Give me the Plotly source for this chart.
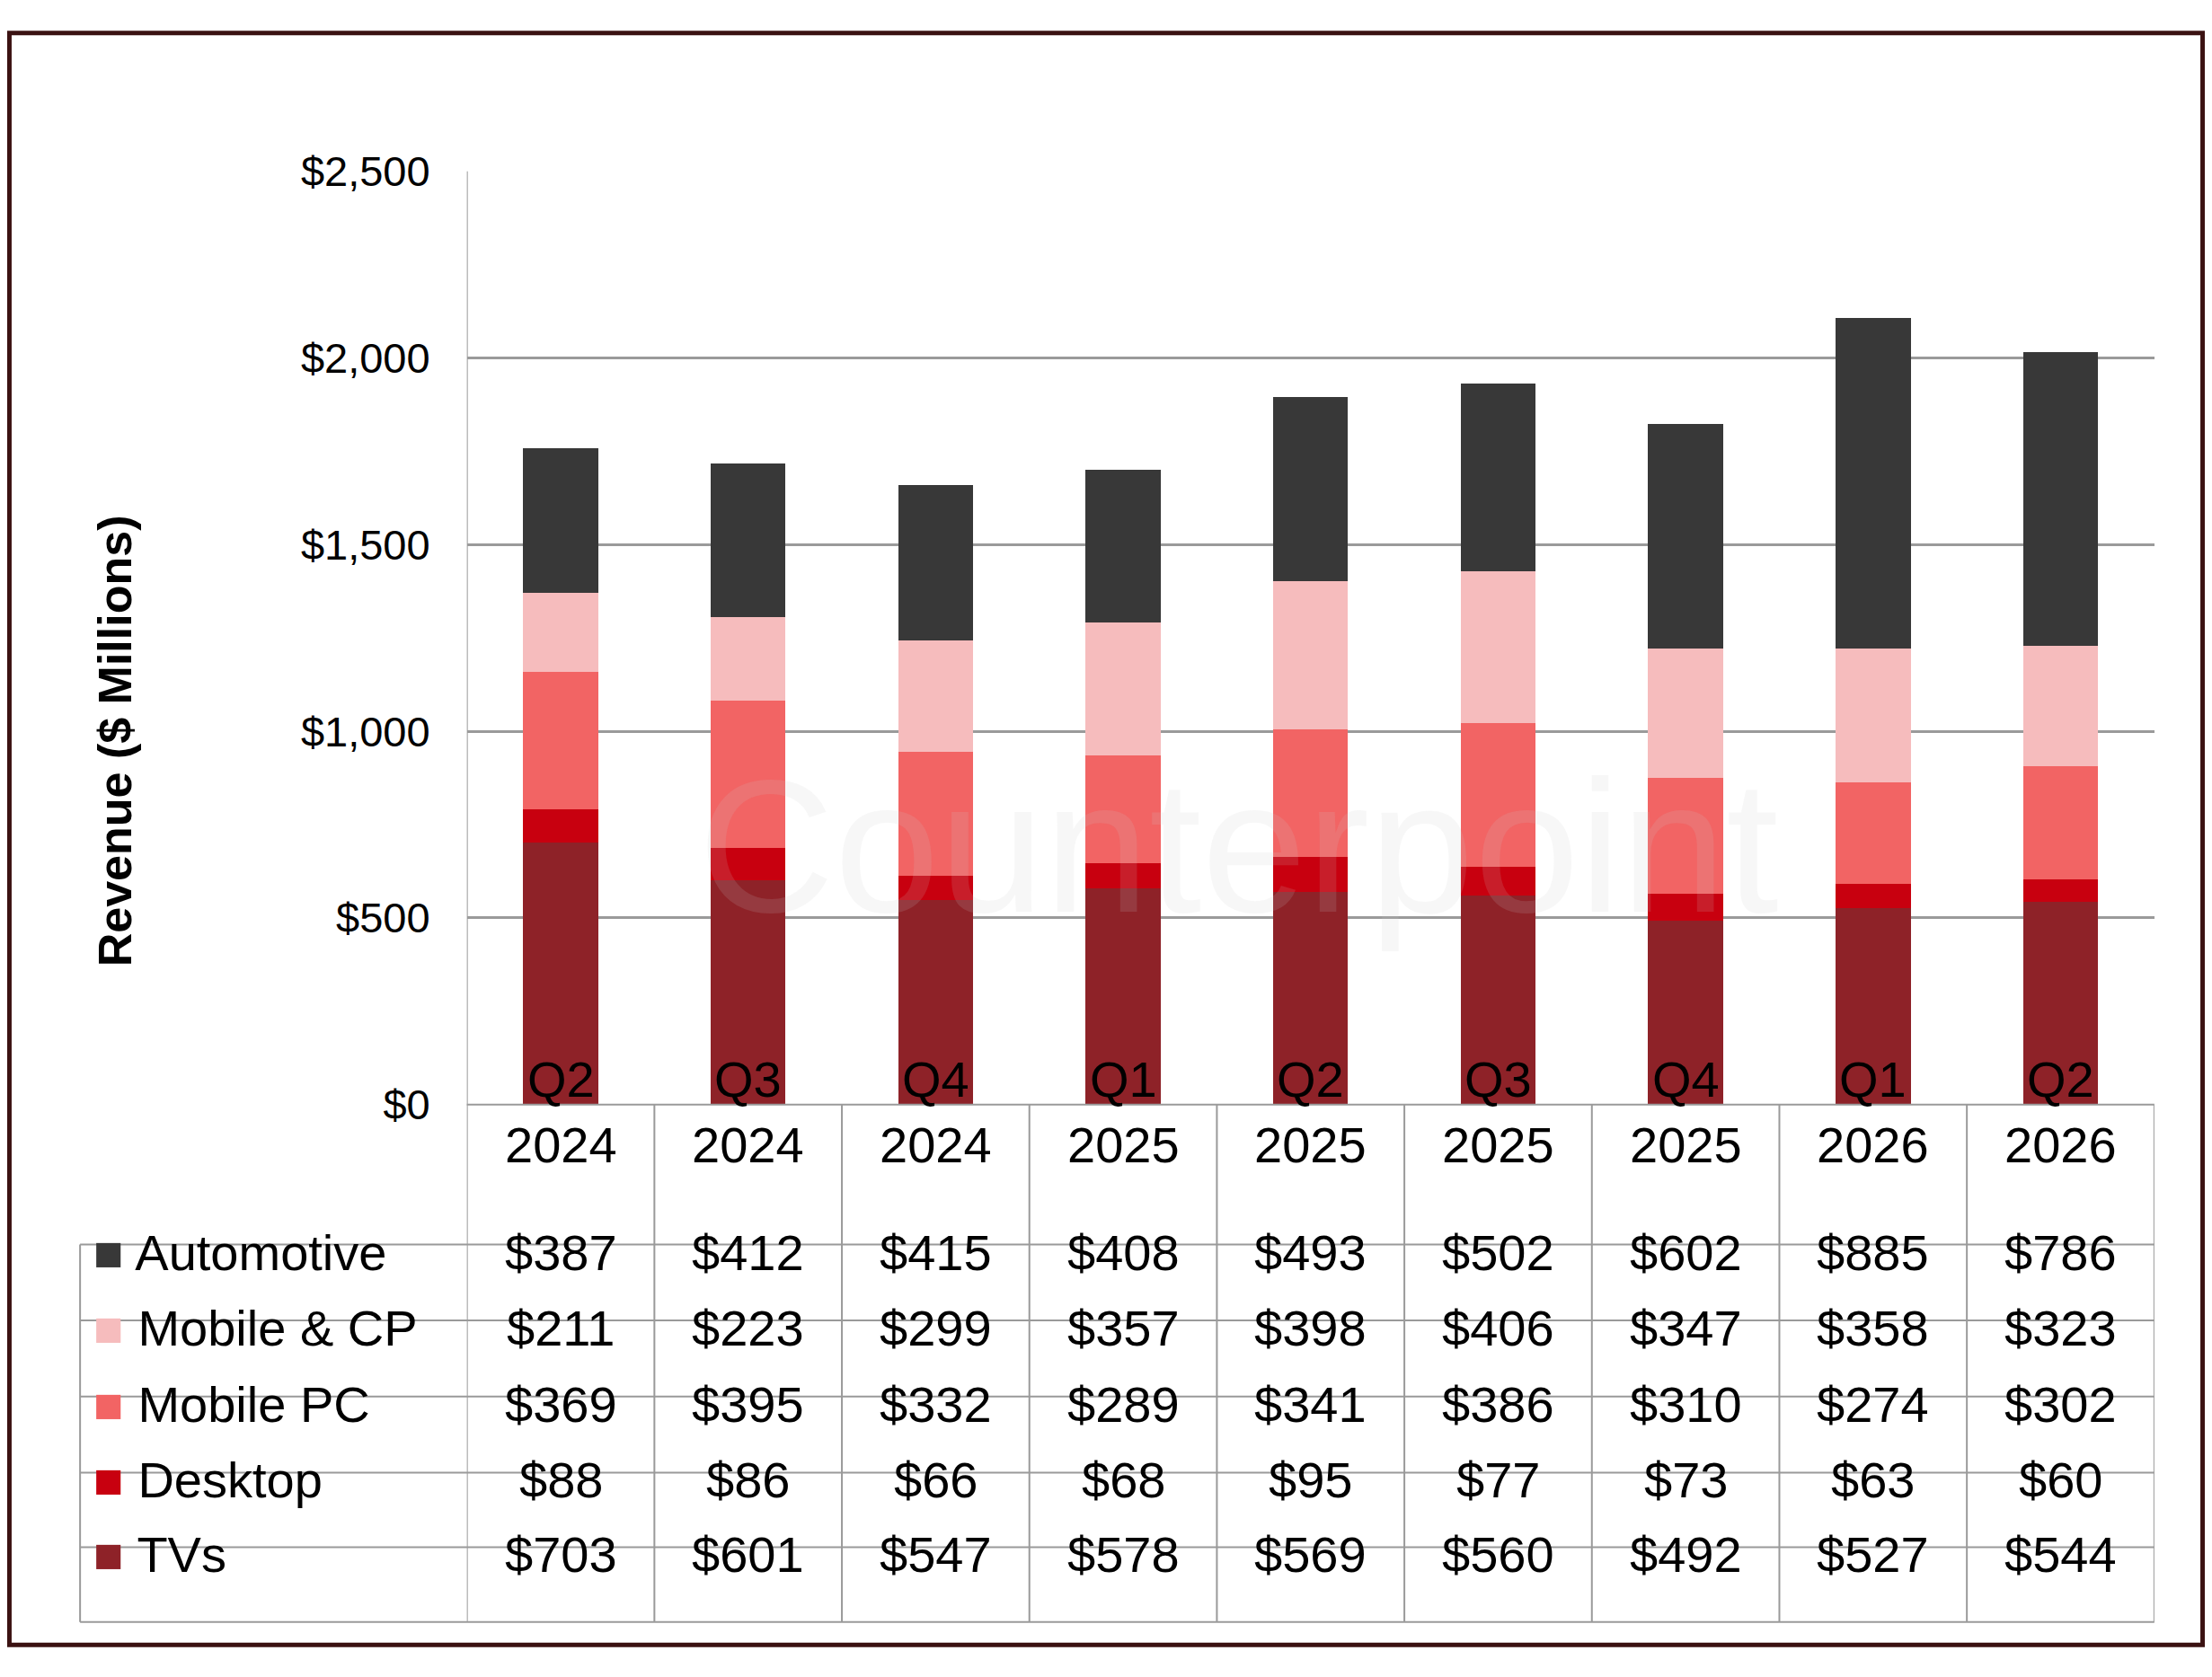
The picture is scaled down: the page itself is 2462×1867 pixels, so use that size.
import plotly.graph_objects as go

quarters = ["Q2<br>2024", "Q3<br>2024", "Q4<br>2024", "Q1<br>2025", "Q2<br>2025",
            "Q3<br>2025", "Q4<br>2025", "Q1<br>2026", "Q2<br>2026"]
tvs = [703, 601, 547, 578, 569, 560, 492, 527, 544]
desktop = [88, 86, 66, 68, 95, 77, 73, 63, 60]
mobile_pc = [369, 395, 332, 289, 341, 386, 310, 274, 302]
mobile_cp = [211, 223, 299, 357, 398, 406, 347, 358, 323]
automotive = [387, 412, 415, 408, 493, 502, 602, 885, 786]

# bottom to top
series = [
    ("TVs", tvs, "#8E2228"),
    ("Desktop", desktop, "#C8000F"),
    ("Mobile PC", mobile_pc, "#F26464"),
    ("Mobile & CP", mobile_cp, "#F6BCBD"),
    ("Automotive", automotive, "#383838"),
]

FONT = "Liberation Sans, Arial, sans-serif"
GRID = "#9a9a9a"
W, H = 2446, 1851


def py(v):  # reference pixel row (of 1189) -> paper y
    return 1 - v / 1189


def px(v):  # reference pixel column (of 1568) -> paper x
    return v / 1568


fig = go.Figure()
n = len(quarters)
x_idx = list(range(n))
for name, vals, color in series:
    fig.add_trace(go.Bar(x=x_idx, y=vals, name=name, marker_color=color,
                         marker_line_width=0, width=0.4, showlegend=False))

shapes = [dict(type="rect", xref="paper", yref="paper", x0=0.001, y0=0.001,
               x1=0.999, y1=0.999, line=dict(color="#3b1212", width=5))]
annotations = [
    dict(text="<b>Revenue ($ Millions)</b>", textangle=-90, xref="paper",
         yref="paper", x=px(57), y=py(522), showarrow=False, font=dict(size=52)),
    dict(text="Counterpoint", xref="paper", yref="paper", x=0.56, y=py(600),
         showarrow=False, font=dict(size=210, color="rgba(200,200,200,0.15)")),
]

# data table drawn under the axis
row_edges = [893, 949, 1005, 1061, 1116, 1171]
line = dict(color=GRID, width=2)
for i in range(n + 1):
    shapes.append(dict(type="line", xref="x", yref="paper", x0=i - 0.5, x1=i - 0.5,
                       y0=py(1171), y1=py(103 if i == 0 else 790), line=line))
shapes.append(dict(type="line", xref="paper", yref="paper", x0=px(52), x1=px(52),
                   y0=py(1171), y1=py(893), line=line))
shapes.append(dict(type="line", xref="paper", yref="paper", x0=px(328), x1=px(1532),
                   y0=py(790), y1=py(790), line=line))
for e in row_edges:
    shapes.append(dict(type="line", xref="paper", yref="paper", x0=px(52), x1=px(1532),
                       y0=py(e), y1=py(e), line=line))

for i, q in enumerate(quarters):
    annotations.append(dict(text=q, xref="x", yref="paper", x=i, y=py(842),
                            showarrow=False, font=dict(size=56)))
for r, (name, vals, color) in enumerate(reversed(series)):
    yc = py((row_edges[r] + row_edges[r + 1]) / 2)
    annotations.append(dict(text=f"<span style='color:{color}'>■</span> {name}",
                            xref="paper", yref="paper", x=px(60), y=yc,
                            xanchor="left", showarrow=False, font=dict(size=56)))
    for i in x_idx:
        annotations.append(dict(text=f"${vals[i]}", xref="x", yref="paper", x=i, y=yc,
                                showarrow=False, font=dict(size=56)))

fig.update_layout(
    width=W, height=H,
    barmode="stack",
    paper_bgcolor="white", plot_bgcolor="white",
    margin=dict(l=0, r=0, t=0, b=0),
    font=dict(family=FONT, color="black"),
    xaxis=dict(domain=[px(328), px(1532)], range=[-0.5, n - 0.5],
               showticklabels=False, showgrid=False, zeroline=False),
    yaxis=dict(domain=[py(790), py(103)], range=[0, 2500],
               dtick=500, tickprefix="$", tickformat=",d",
               showgrid=True, gridcolor=GRID, gridwidth=3,
               zeroline=False, showline=False, ticks="",
               tickfont=dict(size=47), ticklabelstandoff=40),
    shapes=shapes,
    annotations=annotations,
)

fig.write_html("out.html")
